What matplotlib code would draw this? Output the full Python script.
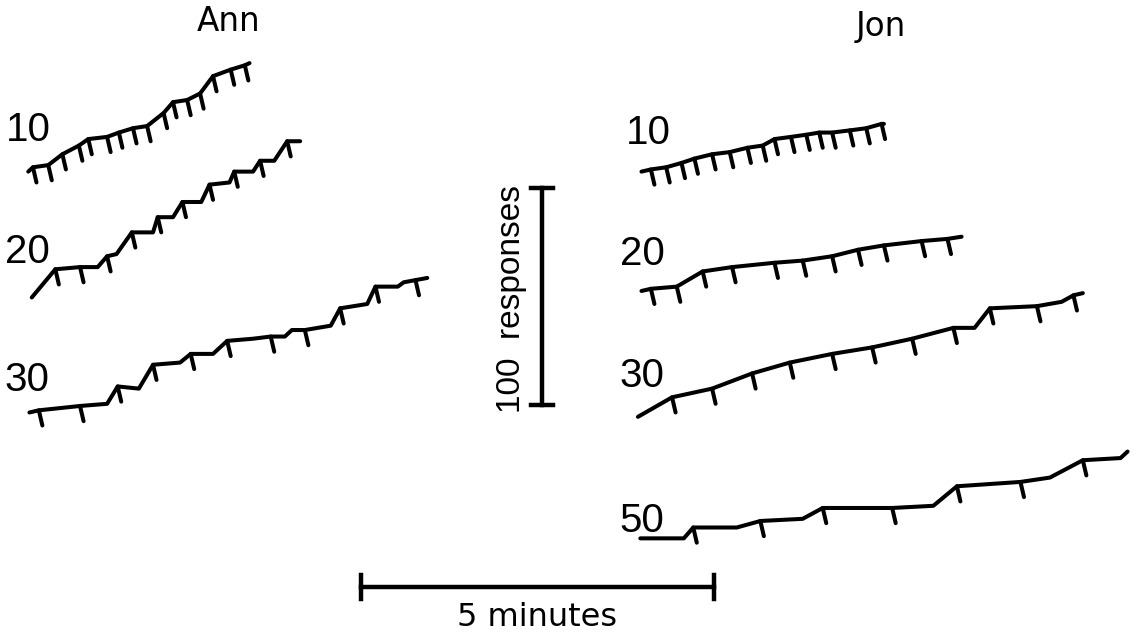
import matplotlib
matplotlib.use("Agg")
import matplotlib.pyplot as plt

plt.rcParams['font.family'] = ['Liberation Sans', 'DejaVu Sans']

# ---- data: cumulative records (time in seconds, cumulative responses) ----
# Ann
ann10_t = [0, 4, 17, 29, 43, 51, 67, 77, 89, 101, 115, 123, 135, 146, 157, 172, 184, 188]
ann10_r = [0, 2, 3, 8, 12, 15, 16, 18, 20, 21, 27, 32, 33, 36, 44, 47, 49, 50]
ann10_ticks = list(range(1, 17))

ann20_t = [0, 20, 41, 56, 64, 72, 85, 103, 107, 120, 128, 144, 151, 168, 172, 188, 194, 206, 217, 228]
ann20_r = [0, 13, 14, 14, 19, 20, 30, 30, 37, 37, 44, 44, 52, 53, 58, 58, 63, 63, 72, 72]
ann20_ticks = [1, 2, 4, 6, 8, 10, 12, 14, 16, 18]

ann30_t = [0, 8, 43, 66, 75, 93, 105, 128, 137, 156, 168, 190, 205, 217, 223, 234, 256, 264, 287, 294, 313, 318, 328, 338]
ann30_r = [0, 1, 3, 4, 12, 11, 22, 23, 27, 27, 33, 34, 35, 35, 38, 38, 40, 48, 50, 58, 58, 60, 61, 62]
ann30_ticks = [1, 2, 4, 6, 8, 10, 12, 15, 17, 19, 22]

# Jon
jon10_t = [0, 8, 21, 34, 45, 60, 75, 90, 103, 113, 127, 140, 151, 162, 177, 191, 204, 206]
jon10_r = [0, 1, 2, 4, 6, 8, 9, 11, 12, 15, 16, 17, 18, 18, 19, 20, 22, 22]
jon10_ticks = list(range(1, 17))

jon20_t = [0, 8, 30, 52, 77, 113, 137, 162, 184, 206, 238, 260, 272]
jon20_r = [0, 1, 2, 9, 11, 13, 14, 16, 19, 21, 23, 24, 25]
jon20_ticks = list(range(1, 12))

jon30_t = [0, 29, 63, 97, 129, 165, 199, 233, 268, 286, 299, 339, 360, 370, 378]
jon30_r = [0, 9, 13, 20, 25, 29, 32, 36, 41, 41, 50, 51, 53, 56, 57]
jon30_ticks = [1, 2, 3, 4, 5, 6, 7, 8, 10, 11, 13]

jon50_t = [0, 37, 45, 82, 102, 138, 155, 214, 249, 269, 323, 348, 376, 408, 414]
jon50_r = [0, 0, 5, 5, 8, 9, 14, 14, 15, 24, 26, 28, 36, 37, 40]
jon50_ticks = [2, 4, 6, 7, 9, 10, 12]

ratio_labels = ["10", "20", "30", "10", "20", "30", "50"]
subjects = ["Ann", "Jon"]
scale_minutes = 5
scale_responses = 100

# ---- layout (record origins in seconds / responses on the page) ----
records = [
    (ann10_t, ann10_r, ann10_ticks, (24, 214)),
    (ann20_t, ann20_r, ann20_ticks, (27, 156)),
    (ann30_t, ann30_r, ann30_ticks, (25, 103)),
    (jon10_t, jon10_r, jon10_ticks, (545, 214)),
    (jon20_t, jon20_r, jon20_ticks, (545, 159)),
    (jon30_t, jon30_r, jon30_ticks, (542, 101)),
    (jon50_t, jon50_r, jon50_ticks, (544, 45)),
]
label_pos = [(5, 233), (4, 177), (4, 118), (532, 232), (527, 176), (526, 120), (526, 53)]

fig = plt.figure(figsize=(11.39, 6.36), dpi=100)
ax = fig.add_axes([0, 0, 1, 1])
ax.set_xlim(0, 1139 / 1.177)
ax.set_ylim(0, 636 / 2.17)
ax.axis('off')

lw = 2.9
tick_dt, tick_dr = 3.0, -7.0
for (t, r, ticks, (x0, y0)), lab, (lx, ly) in zip(records, ratio_labels, label_pos):
    xs = [x0 + v for v in t]
    ys = [y0 + v for v in r]
    ax.plot(xs, ys, color='black', lw=lw, solid_capstyle='round', solid_joinstyle='round')
    for i in ticks:
        ax.plot([xs[i], xs[i] + tick_dt], [ys[i], ys[i] + tick_dr], color='black',
                lw=lw, solid_capstyle='round')
    ax.text(lx, ly, lab, fontsize=29, ha='left', va='center')

# subject titles
ax.text(194.6, 283, subjects[0], fontsize=23.5, ha='center', va='center', family='DejaVu Sans')
ax.text(748.5, 281, subjects[1], fontsize=23.5, ha='center', va='center', family='DejaVu Sans')

# vertical scale bar: 100 responses
vx, vy0 = 460.5, 106.5
ax.plot([vx, vx], [vy0, vy0 + scale_responses], color='black', lw=3.2)
for yy in (vy0, vy0 + scale_responses):
    ax.plot([vx - 9.3, vx + 9.3], [yy, yy], color='black', lw=3.2)
ax.text(435, vy0 + scale_responses / 2 - 1, "100  responses", rotation=90, fontsize=24,
        ha='center', va='center')

# horizontal scale bar: 5 minutes
hx0, hy = 306.7, 22.6
hx1 = hx0 + scale_minutes * 60
ax.plot([hx0, hx1], [hy, hy], color='black', lw=3.2)
for xx in (hx0, hx1):
    ax.plot([xx, xx], [hy - 5.5, hy + 5.5], color='black', lw=3.2)
ax.text((hx0 + hx1) / 2, 8.5, f"{scale_minutes} minutes", fontsize=23, ha='center',
        va='center', family='DejaVu Sans')

fig.savefig("out.png", dpi=100)
